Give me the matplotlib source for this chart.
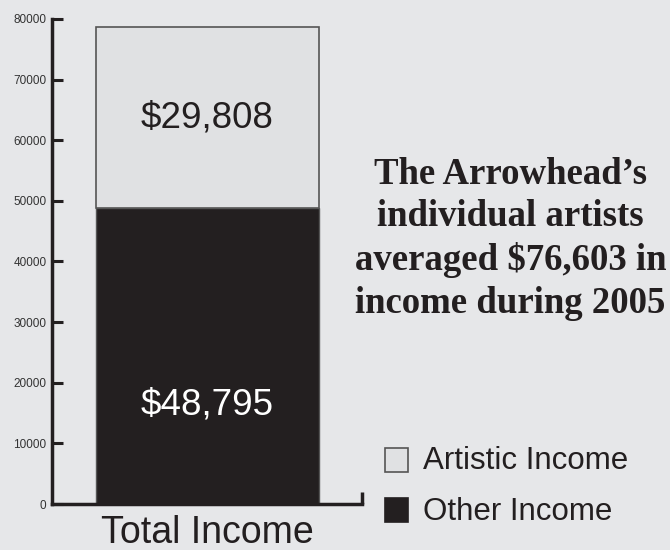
import matplotlib
matplotlib.use('Agg')
import matplotlib.pyplot as plt
from matplotlib.patches import Rectangle

# income split for the average artist, 2005
category = 'Total Income'
other_income = 48795
artistic_income = 29808
legend_labels = ['Artistic Income', 'Other Income']
yticks = [0, 10000, 20000, 30000, 40000, 50000, 60000, 70000, 80000]
headline = "The Arrowhead’s\nindividual artists\naveraged $76,603 in\nincome during 2005"

bg = '#e6e7e9'
light = '#e0e1e3'
dark = '#231f20'

plt.rcParams['font.family'] = ['Liberation Sans', 'DejaVu Sans']

fig = plt.figure(figsize=(6.7, 5.5), dpi=100, facecolor=bg)
ax = fig.add_axes([0.0776, 0.0836, 0.4627, 0.8819])
ax.set_facecolor(bg)

x = 0.5015
w = 0.719
ax.bar(x, other_income, width=w, color=dark, edgecolor='#555555', linewidth=1)
ax.bar(x, artistic_income, bottom=other_income, width=w, color=light,
       edgecolor='#555555', linewidth=1.2)

ax.text(x, other_income + artistic_income / 2, f'${artistic_income:,}',
        ha='center', va='center', fontsize=26.5, color=dark)
ax.text(x, other_income / 3, f'${other_income:,}',
        ha='center', va='center', fontsize=26.5, color='white')

ax.set_xlim(0, 1)
ax.set_ylim(0, 80000)
ax.set_yticks(yticks)
ax.set_yticklabels([str(t) for t in yticks], fontsize=8.5, color='#333333')
ax.set_xticks([])
ax.tick_params(axis='y', direction='in', length=8, width=2.2, color=dark, pad=4)

for s in ['top', 'right']:
    ax.spines[s].set_visible(False)
for s in ['left', 'bottom']:
    ax.spines[s].set_linewidth(2.5)
    ax.spines[s].set_color(dark)

# small upturn at the right end of the baseline
ax.plot([1, 1], [0, 0.024], transform=ax.transAxes, color=dark,
        linewidth=2.5, clip_on=False, solid_capstyle='butt')

ax.text(x, -0.06, category, transform=ax.get_xaxis_transform(),
        ha='center', va='center', fontsize=27, color=dark)

fig.text(0.762, 0.566, headline, ha='center', va='center',
         family='Liberation Serif', fontweight='bold', fontsize=26.5,
         color=dark, linespacing=1.28)

# legend keys drawn by hand
keys = [(light, '#555555', 0.1418, 0.1618),
        (dark, dark, 0.0509, 0.0682)]
for (fc, ec, y0, ty), label in zip(keys, legend_labels):
    fig.patches.append(Rectangle((0.5746, y0), 0.0343, 0.0436, facecolor=fc,
                                 edgecolor=ec, linewidth=1.2,
                                 transform=fig.transFigure, figure=fig))
    fig.text(0.6313, ty, label, ha='left', va='center', fontsize=22.5,
             color=dark)

fig.savefig('out.png', dpi=100, facecolor=bg)
